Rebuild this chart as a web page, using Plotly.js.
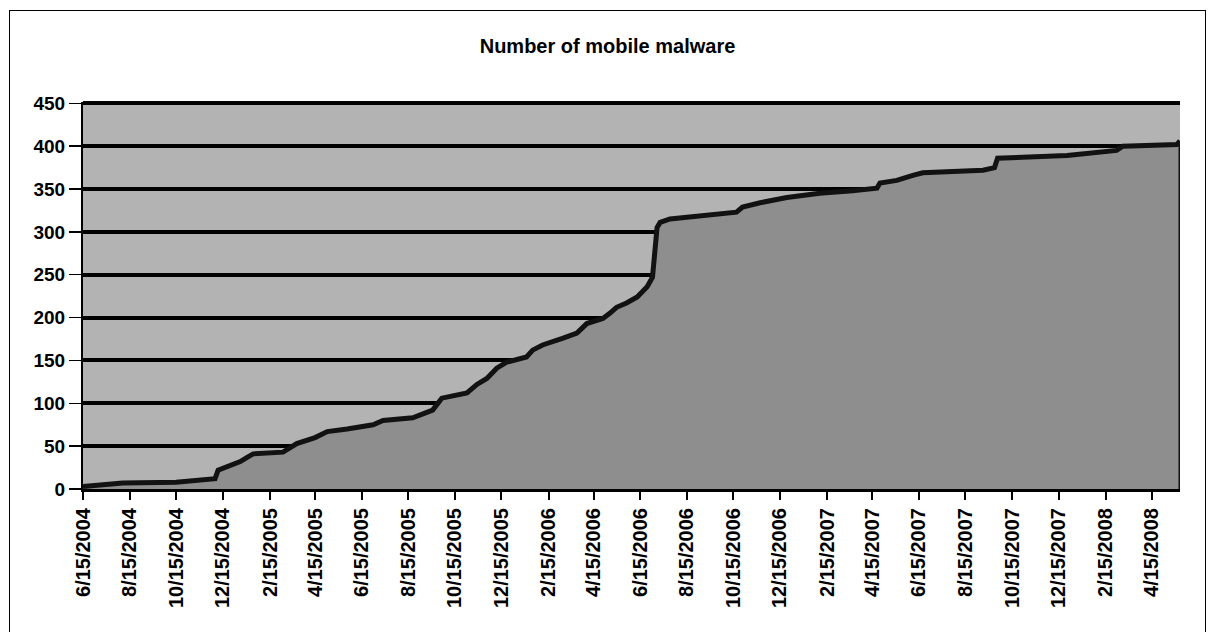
<!DOCTYPE html>
<html>
<head>
<meta charset="utf-8">
<script src="https://cdn.plot.ly/plotly-3.0.1.min.js"></script>
<style>
  html, body { margin: 0; padding: 0; background: #fff; overflow: hidden; }
  #wrap { position: relative; width: 1215px; height: 632px; }
  #chart { width: 1215px; height: 632px; }
  #frame { position: absolute; left: 9px; top: 10px; width: 1197px; height: 640px;
           border: 1px solid #000; pointer-events: none; box-sizing: border-box; }
</style>
</head>
<body>
<div id="wrap">
  <div id="chart"></div>
  <div id="frame"></div>
</div>
<script>
const titleText = "Number of mobile malware";

const dates = [
  "2004-06-15","2004-08-06","2004-10-15","2004-11-24","2004-12-05","2004-12-09",
  "2004-12-25","2005-01-07","2005-01-16","2005-01-24","2005-03-04","2005-03-22",
  "2005-04-15","2005-05-01","2005-05-27","2005-06-30","2005-07-13","2005-08-21",
  "2005-09-16","2005-09-28","2005-10-31","2005-11-13","2005-11-26","2005-12-09",
  "2005-12-22","2006-01-17","2006-01-25","2006-02-07","2006-03-06","2006-03-24",
  "2006-04-06","2006-04-27","2006-05-06","2006-05-15","2006-05-28","2006-06-11",
  "2006-06-24","2006-07-01","2006-07-07","2006-07-11","2006-07-24","2006-09-05",
  "2006-10-19","2006-10-27","2006-11-19","2006-12-24","2007-02-05","2007-03-20",
  "2007-04-21","2007-04-25","2007-05-17","2007-06-07","2007-06-20","2007-09-07",
  "2007-09-22","2007-09-26","2007-12-26","2008-02-29","2008-03-08","2008-05-18",
  "2008-05-22"
];

const counts = [
  3, 7, 8, 10, 12, 22,
  28, 32, 37, 41, 43, 53,
  60, 67, 70, 75, 80, 83,
  92, 106, 112, 122, 129, 141,
  148, 154, 162, 168, 176, 182,
  193, 199, 205, 212, 217, 224,
  236, 247, 305, 311, 315, 319,
  323, 329, 334, 340, 345, 348,
  351, 357, 360, 366, 369, 372,
  375, 386, 389, 395, 400, 402,
  406
];

const xRange = ["2004-06-15", "2008-05-22"];
const yTicks = [0, 50, 100, 150, 200, 250, 300, 350, 400, 450];

const lastX = dates[dates.length - 1];
const lastY = counts[counts.length - 1];

const traces = [
  {
    x: dates, y: counts, type: "scatter", mode: "lines",
    fill: "tozeroy", fillcolor: "#8e8e8e",
    line: { color: "#121212", width: 5 },
    hoverinfo: "x+y", showlegend: false
  },
  {
    x: [lastX, lastX], y: [lastY, 0], type: "scatter", mode: "lines",
    line: { color: "#121212", width: 3 },
    hoverinfo: "skip", showlegend: false
  }
];

const tickFont = { family: "Liberation Sans, Arial, sans-serif", size: 19, color: "#000", weight: "bold" };

const layout = {
  width: 1215, height: 632,
  margin: { l: 83, r: 35, t: 102, b: 143 },
  paper_bgcolor: "#ffffff",
  plot_bgcolor: "#b3b3b3",
  title: {
    text: titleText,
    x: 0.5, xanchor: "center", xref: "container",
    y: 0.927, yanchor: "middle", yref: "container",
    font: { family: "Liberation Sans, Arial, sans-serif", size: 20, color: "#000", weight: "bold" }
  },
  xaxis: {
    type: "date",
    range: xRange,
    tickmode: "linear", tick0: "2004-06-15", dtick: "M2",
    tickformat: "%-m/%-d/%Y",
    tickangle: -90,
    tickfont: { family: "Liberation Sans, Arial, sans-serif", size: 20, color: "#000", weight: "bold" },
    showgrid: false, zeroline: false,
    showline: true, linecolor: "#000", linewidth: 3,
    ticks: "outside", ticklen: 8, tickwidth: 2, tickcolor: "#000"
  },
  yaxis: {
    range: [0, 451.5],
    tickmode: "array", tickvals: yTicks, ticktext: yTicks.map(String),
    tickfont: tickFont,
    showgrid: true, gridcolor: "#000", gridwidth: 4,
    zeroline: false,
    showline: true, linecolor: "#000", linewidth: 2,
    ticks: "outside", ticklen: 12, tickwidth: 1.5, tickcolor: "#000"
  },
  showlegend: false
};

Plotly.newPlot("chart", traces, layout, { displayModeBar: false, staticPlot: true });
</script>
</body>
</html>
